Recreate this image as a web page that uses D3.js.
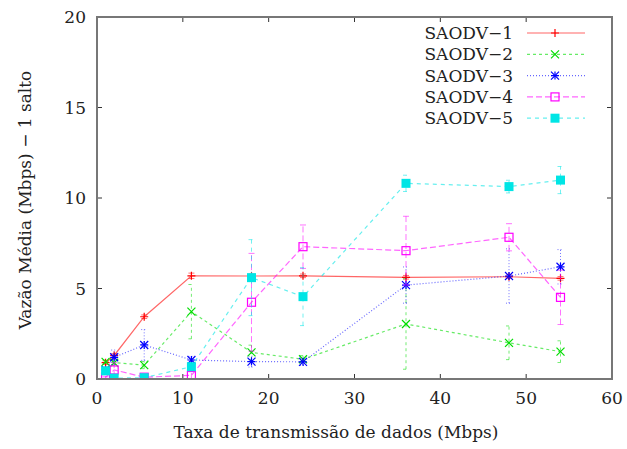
<!DOCTYPE html>
<html>
<head>
<meta charset="utf-8">
<script src="https://cdn.jsdelivr.net/npm/d3@7"></script>
<style>
body { margin: 0; background: #fff; }
text { font-family: "DejaVu Serif", serif; fill: #222; }
</style>
</head>
<body>
<svg width="627" height="449"></svg>
<script>
// taxas 802.11 usadas no eixo x
var rates = [1, 2, 5.5, 11, 18, 24, 36, 48, 54];
var names = ["SAODV\u22121", "SAODV\u22122", "SAODV\u22123", "SAODV\u22124", "SAODV\u22125"];

var s1 = [0.9, 1.3, 3.44, 5.7, 5.69, 5.7, 5.62, 5.65, 5.56];
var e1 = [0.1, 0.1, 0.1, 0.15, 0.1, 0.1, 0.1, 0.1, 0.1];
var s2 = [0.95, 0.9, 0.77, 3.72, 1.47, 1.09, 3.04, 2.0, 1.51];
var e2 = [0.1, 0.15, 0.2, 1.5, 0.4, 0.2, 2.5, 0.93, 0.6];
var s3 = [0.5, 1.2, 1.88, 1.05, 0.96, 0.95, 5.19, 5.69, 6.2];
var e3 = [0.1, 0.4, 0.85, 0.2, 0.3, 0.2, 1.0, 1.5, 0.95];
var s4 = [0.1, 0.5, 0.1, 0.2, 4.24, 7.31, 7.09, 7.83, 4.51];
var e4 = [0.05, 0.4, 0.1, 0.2, 2.7, 1.2, 1.9, 0.75, 1.5];
var s5 = [0.45, 0.05, 0.07, 0.68, 5.6, 4.55, 10.81, 10.63, 10.99];
var e5 = [0.2, 0.1, 0.1, 0.2, 2.1, 1.6, 0.45, 0.35, 0.75];

var xTicks = [0, 10, 20, 30, 40, 50, 60];
var yTicks = [0, 5, 10, 15, 20];

var colors = ["#ff0000", "#00dd00", "#0000ff", "#ff00ff", "#00e5e5"];
var dashes = [null, "3,3", "1,2", "6,3", "4,4"];
var shapes = ["plus", "cross", "star", "box", "fbox"];

var svg = d3.select("svg");
var x = d3.scaleLinear().domain([0, 60]).range([97, 612]);
var y = d3.scaleLinear().domain([0, 20]).range([379, 17]);

var series = [s1, s2, s3, s4, s5].map(function(v, k) {
  var errs = [e1, e2, e3, e4, e5][k];
  return {name: names[k], color: colors[k], dash: dashes[k], shape: shapes[k],
    pts: rates.map(function(r, i) { return {x: r, y: v[i], e: errs[i]}; })};
});

svg.append("clipPath").attr("id", "clip")
  .append("rect").attr("x", 97).attr("y", 17).attr("width", 515).attr("height", 362);

// ticks (inward, mirrored)
var tk = svg.append("g").attr("stroke", "#333").attr("stroke-width", 1);
xTicks.forEach(function(t) {
  tk.append("line").attr("x1", x(t)).attr("x2", x(t)).attr("y1", 379).attr("y2", 374);
  tk.append("line").attr("x1", x(t)).attr("x2", x(t)).attr("y1", 17).attr("y2", 22);
});
yTicks.forEach(function(t) {
  tk.append("line").attr("x1", 97).attr("x2", 102).attr("y1", y(t)).attr("y2", y(t));
  tk.append("line").attr("x1", 612).attr("x2", 607).attr("y1", y(t)).attr("y2", y(t));
});

svg.selectAll(".xl").data(xTicks).enter().append("text")
  .attr("x", function(d) { return x(d); }).attr("y", 404)
  .attr("text-anchor", "middle").attr("font-size", 17)
  .text(function(d) { return d; });
svg.selectAll(".yl").data(yTicks).enter().append("text")
  .attr("x", 86).attr("y", function(d) { return y(d) + 6; })
  .attr("text-anchor", "end").attr("font-size", 17)
  .text(function(d) { return d; });

svg.append("text").attr("x", 336).attr("y", 438).attr("text-anchor", "middle")
  .attr("font-size", 17).text("Taxa de transmissão de dados (Mbps)");
svg.append("text").attr("transform", "translate(31,200) rotate(-90)")
  .attr("text-anchor", "middle").attr("font-size", 17).text("Vazão Média (Mbps) \u2212 1 salto");

function marker(g, shape, color, cx, cy) {
  var s = 4;
  if (shape == "plus" || shape == "star") {
    g.append("path").attr("d", "M" + (cx - s) + "," + cy + "H" + (cx + s) + "M" + cx + "," + (cy - s) + "V" + (cy + s))
      .attr("stroke", color).attr("stroke-width", 1.2);
  }
  if (shape == "cross" || shape == "star") {
    g.append("path").attr("d", "M" + (cx - s) + "," + (cy - s) + "L" + (cx + s) + "," + (cy + s) + "M" + (cx - s) + "," + (cy + s) + "L" + (cx + s) + "," + (cy - s))
      .attr("stroke", color).attr("stroke-width", 1.2);
  }
  if (shape == "box") {
    g.append("rect").attr("x", cx - 4).attr("y", cy - 4).attr("width", 8).attr("height", 8)
      .attr("fill", "none").attr("stroke", color).attr("stroke-width", 1.2);
  }
  if (shape == "fbox") {
    g.append("rect").attr("x", cx - 4.5).attr("y", cy - 4.5).attr("width", 9).attr("height", 9)
      .attr("fill", color);
  }
}

var line = d3.line().x(function(d) { return x(d.x); }).y(function(d) { return y(d.y); });
var plot = svg.append("g").attr("clip-path", "url(#clip)");

series.forEach(function(s) {
  var g = plot.append("g");
  // error bars
  s.pts.forEach(function(p) {
    var x0 = x(p.x), y0 = y(p.y - p.e), y1 = y(p.y + p.e);
    g.append("path")
      .attr("d", "M" + x0 + "," + y0 + "V" + y1 + "M" + (x0 - 3) + "," + y0 + "H" + (x0 + 3) + "M" + (x0 - 3) + "," + y1 + "H" + (x0 + 3))
      .attr("fill", "none").attr("stroke", s.color).attr("stroke-opacity", 0.55)
      .attr("stroke-dasharray", s.dash);
  });
  g.append("path").datum(s.pts).attr("d", line)
    .attr("fill", "none").attr("stroke", s.color).attr("stroke-opacity", 0.6)
    .attr("stroke-width", 1.2).attr("stroke-dasharray", s.dash);
  s.pts.forEach(function(p) { marker(g, s.shape, s.color, x(p.x), y(p.y)); });
});

// frame
svg.append("rect").attr("x", 97).attr("y", 17).attr("width", 515).attr("height", 362)
  .attr("fill", "none").attr("stroke", "#777").attr("stroke-width", 2);

// legend
var leg = svg.append("g");
series.forEach(function(s, i) {
  var ly = 33 + i * 21.3;
  leg.append("rect").attr("x", 416).attr("y", ly - 10).attr("width", 174).attr("height", 20).attr("fill", "#fff");
  leg.append("text").attr("x", 513).attr("y", ly + 6).attr("text-anchor", "end")
    .attr("font-size", 17).text(s.name);
  leg.append("line").attr("x1", 527).attr("x2", 585).attr("y1", ly).attr("y2", ly)
    .attr("stroke", s.color).attr("stroke-opacity", 0.6).attr("stroke-width", 1.2)
    .attr("stroke-dasharray", s.dash);
  marker(leg, s.shape, s.color, 555, ly);
});
</script>
</body>
</html>
